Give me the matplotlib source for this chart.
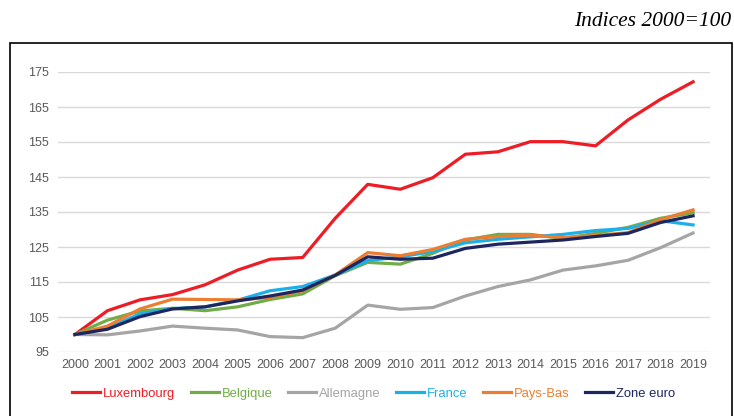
import matplotlib
matplotlib.use("Agg")
import matplotlib.pyplot as plt
from matplotlib.patches import Rectangle

years = list(range(2000, 2020))

luxembourg = [100.0, 106.8, 109.9, 111.4, 114.2, 118.4, 121.5, 122.0, 133.2, 142.9,
              141.5, 144.8, 151.5, 152.2, 155.1, 155.1, 153.9, 161.3, 167.2, 172.2]
belgique = [100.0, 104.1, 106.7, 107.5, 106.8, 107.9, 110.0, 111.6, 116.8, 120.6,
            120.1, 123.2, 127.0, 128.6, 128.6, 127.4, 128.9, 130.6, 133.2, 134.8]
allemagne = [100.0, 99.9, 101.0, 102.4, 101.8, 101.3, 99.4, 99.1, 101.8, 108.4,
             107.2, 107.7, 111.0, 113.7, 115.6, 118.4, 119.6, 121.2, 124.8, 129.0]
france = [100.0, 101.8, 105.9, 107.4, 107.9, 109.8, 112.5, 113.7, 117.0, 121.1,
          122.2, 123.7, 126.2, 127.2, 127.9, 128.6, 129.7, 130.3, 132.5, 131.3]
pays_bas = [100.0, 102.4, 107.3, 110.1, 110.0, 109.9, 110.6, 112.5, 117.0, 123.4,
            122.5, 124.3, 127.2, 128.0, 128.4, 127.7, 128.3, 129.1, 132.8, 135.6]
zone_euro = [100.0, 101.5, 105.1, 107.3, 107.9, 109.6, 111.0, 112.7, 116.9, 122.2,
             121.5, 121.8, 124.6, 125.8, 126.4, 127.0, 128.0, 128.9, 132.0, 133.9]

series = [
    ("Luxembourg", luxembourg, "#ee1c25"),
    ("Belgique", belgique, "#70ad47"),
    ("Allemagne", allemagne, "#a5a5a5"),
    ("France", france, "#1cb0ea"),
    ("Pays-Bas", pays_bas, "#ed7d31"),
    ("Zone euro", zone_euro, "#1e2660"),
]

plt.rcParams['font.family'] = ['Liberation Sans', 'DejaVu Sans']

W, H = 734, 416
fig = plt.figure(figsize=(W / 100, H / 100), dpi=100)

# outer frame
fig.patches.append(Rectangle((10 / W, -0.05), (731.5 - 10) / W, 1.05 - 42.5 / H,
                             transform=fig.transFigure, fill=False,
                             edgecolor="black", linewidth=1.2))

fig.text(731 / W, 1 - 26.5 / H, "Indices 2000=100", ha="right", va="baseline",
         fontsize=15.5, style="italic", family="Liberation Serif")

ax = fig.add_axes([58 / W, 1 - 352 / H, (710 - 58) / W, (352 - 72) / H])

for name, vals, col in series:
    ax.plot(years, vals, color=col, linewidth=2.3, label=name)

ax.set_xlim(1999.48, 2019.52)
ax.set_ylim(95, 175)
ax.set_yticks(range(95, 176, 10))
ax.set_xticks(years)
ax.grid(axis="y", color="#d9d9d9", linewidth=1)
ax.set_axisbelow(True)
for s in ax.spines.values():
    s.set_visible(False)
ax.tick_params(length=0, labelsize=9, labelcolor="#595959")
ax.tick_params(axis="y", pad=6.5)
ax.tick_params(axis="x", pad=5)

leg = fig.legend(loc="center", bbox_to_anchor=(373.5 / W, 1 - 393.5 / H), ncol=6,
                 frameon=False, fontsize=9.4, handlelength=2.15, handletextpad=0.2,
                 columnspacing=1.2, borderaxespad=0, borderpad=0)
for txt, (_, _, col) in zip(leg.get_texts(), series):
    txt.set_color(col)

fig.savefig("out.png", dpi=100)
